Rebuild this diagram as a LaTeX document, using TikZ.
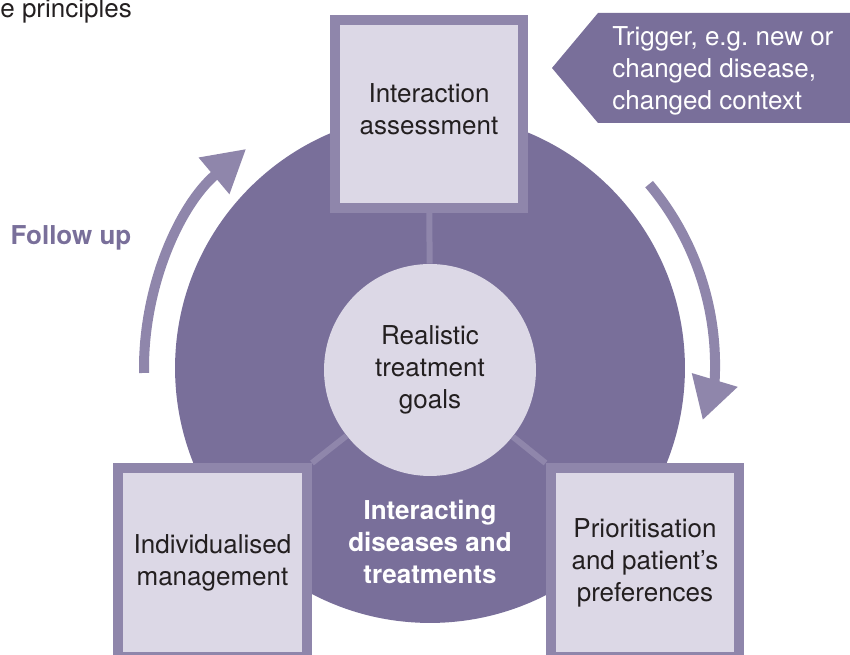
\documentclass[tikz,border=0pt]{standalone}
\usepackage{fontspec}
\setmainfont{TeX Gyre Heros}
\usetikzlibrary{arrows.meta}
\definecolor{discpurple}{HTML}{796F9A}
\definecolor{framepurple}{HTML}{8F86AB}
\definecolor{palelilac}{HTML}{DCD8E6}
\definecolor{inkgrey}{HTML}{231F20}
\tikzset{
  every picture/.style={font={\fontsize{14.8}{18.2}\selectfont}, x=0.02cm, y=0.02cm},
  every node/.style={text=inkgrey, align=center}}

\begin{document}
\begin{tikzpicture}
    \tikzstyle{stagebox}=[draw=framepurple, line width=0.2cm, fill=palelilac, inner sep=0pt]
    \tikzstyle{spoke}=[framepurple, line width=0.12cm]
    \tikzstyle{cycle}=[framepurple, line width=0.2cm, -{Triangle[length=0.84cm, width=0.9cm]}]
    \tikzstyle{heavy}=[font={\fontsize{14.8}{18.2}\selectfont\bfseries}]

    \useasboundingbox (0, 0) rectangle (850, 655);

    \node[inner sep=0pt, anchor=base west] (title) at (0, 637) {e principles};

    % outer disc and its centre
    \coordinate (hub) at (430, 287);
    \node[circle, fill=discpurple, minimum size=10.2cm, inner sep=0pt] (disc) at (hub) {};
    \node[heavy, text=white] (core) at (430, 113) {Interacting\\diseases and\\treatments};

    \node[circle, fill=palelilac, minimum size=4.24cm, inner sep=0pt] (goals) at (430, 285)
      {Realistic\\treatment\\goals};

    \begin{scope}[every node/.append style={stagebox}]
      \node[minimum size=3.76cm] (assess) at (429, 541)
        {Interaction\\assessment\rule[-0.2cm]{0pt}{0pt}};
      \node[minimum width=3.78cm, minimum height=3.78cm] (manage) at (212.5, 92.5)
        {Individualised\\management};
      \node[minimum width=3.78cm, minimum height=3.78cm] (prior) at (645, 92.5)
        {Prioritisation\\and patient's\\preferences};
    \end{scope}

    \begin{scope}
      \draw[spoke] (goals) -- (assess);
      \draw[spoke] (goals) -- (manage.north east);
      \draw[spoke] (goals) -- (prior.north west);
    \end{scope}

    % trigger arrow
    \fill[discpurple] (552, 587) -- (598, 642) -- (850, 642) -- (850, 532) -- (598, 532) -- cycle;
    \node[anchor=west, inner sep=0pt, text=white, align=left] (trigger) at (612, 584)
      {Trigger, e.g.\ new or\\changed disease,\\changed context};

    % cycle arrows
    \draw[cycle] ([shift={(181:286)}]hub) arc[start angle=181, end angle=130, radius=286];
    \draw[cycle] ([shift={(40:286)}]hub) arc[start angle=40, end angle=-3, radius=282] -- ++(-12, -40);

    \node[heavy, text=discpurple] (followup) at (71, 417) {Follow up};
\end{tikzpicture}
\end{document}
